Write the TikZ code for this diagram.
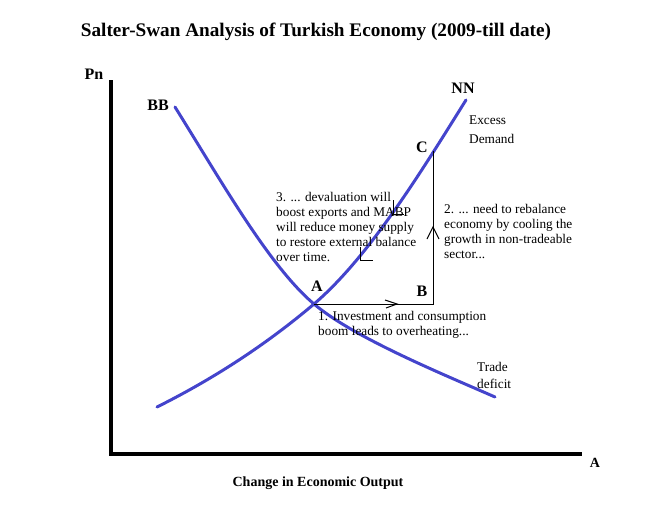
\documentclass[tikz,border=0pt]{standalone}
\usepackage{fontspec}
\setmainfont{Liberation Serif}
\definecolor{curveblue}{RGB}{68,68,204}
\begin{document}
\begin{tikzpicture}[x=1pt,y=-1pt,
  axisline/.style={line width=4.5pt, line cap=butt, line join=miter},
  curveline/.style={draw=curveblue, line width=3pt, line cap=round},
  thinline/.style={line width=1pt},
  lbl/.style={font=\bfseries\fontsize{16}{18}\selectfont, inner sep=0pt},
  note/.style={font=\fontsize{13.3}{15}\selectfont, align=left, inner sep=0pt, anchor=base west}]
\useasboundingbox (0,0) rectangle (655,522);
% title
\node[font=\bfseries\fontsize{19.2}{21}\selectfont, inner sep=0pt, anchor=base] (title) at (316,36) {Salter-Swan Analysis of Turkish Economy (2009-till date)};
% axes
\coordinate (ytop) at (111,80);
\coordinate (origin) at (111,454);
\coordinate (xend) at (582,454);
\draw[axisline] (ytop) -- (origin) -- (xend);
\node[lbl] (pn) at (94,74) {Pn};
\node[lbl, font=\bfseries\fontsize{14}{16}\selectfont] (alab) at (595,463) {A};
\node[font=\bfseries\fontsize{14}{16}\selectfont, inner sep=0pt, anchor=base] (xlab) at (318,486) {Change in Economic Output};
% points
\coordinate (ptA) at (314,304);
\coordinate (ptB) at (433,304);
\coordinate (ptC) at (433,151);
% curves
\coordinate (bbs) at (175,107);
\coordinate (bbe) at (495,397);
\coordinate (nns) at (157,407);
\coordinate (nne) at (466,100);
\draw[curveline] (bbs) .. controls (220,179) and (269,266) .. (ptA)
                       .. controls (354,338) and (445,375) .. (bbe);
\draw[curveline] (nns) .. controls (209,381) and (262,348) .. (ptA)
                       .. controls (369,257) and (421,172) .. (nne);
\node[lbl] (bb) at (158,105) {BB};
\node[lbl] (nn) at (463,88) {NN};
\node[lbl] (la) at (317,286) {A};
\node[lbl] (lb) at (422,291) {B};
\node[lbl] (lc) at (422,147) {C};
\draw[thinline] (ptA) -- (ptB) -- (ptC);
% arrowheads
\draw[thinline] (385,300) -- (397,304) -- (386,308);
\draw[thinline] (427,239) -- (433,227) -- (439,239);
\draw[thinline] (393,200) -- (393,214) -- (404,214);
\draw[thinline] (360,247) -- (360,260) -- (373,260);
% notes (anchored at the baseline of the last line)
\node[note] (n3) at (276,261) {3. ... devaluation will\\boost exports and MABP\\will reduce money supply\\to restore external balance\\over time.};
\node[note] (n2) at (444,258) {2. ... need to rebalance\\economy by cooling the\\growth in non-tradeable\\sector...};
\node[note] (n1) at (318,335) {1. Investment and consumption\\boom leads to overheating...};
\node[note, font=\fontsize{13.3}{19}\selectfont] (ed) at (469,143) {Excess\\Demand};
\node[note, font=\fontsize{13.3}{17}\selectfont] (td) at (477,388) {Trade\\deficit};
\end{tikzpicture}
\end{document}
